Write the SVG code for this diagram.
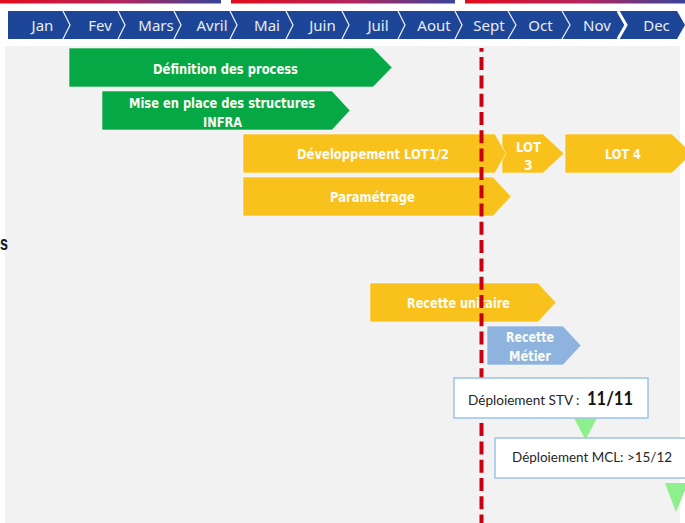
<svg xmlns="http://www.w3.org/2000/svg" width="685" height="523" viewBox="0 0 685 523">
<defs>
<linearGradient id="topbar" x1="0" y1="0" x2="1" y2="0">
<stop offset="0" stop-color="#e30b1c"/>
<stop offset="0.55" stop-color="#b0255e"/>
<stop offset="1" stop-color="#36449a"/>
</linearGradient>
</defs>
<style>
.month{font-family:"Noto Sans","Open Sans",sans-serif;font-size:15px;fill:#e8edf6;text-anchor:middle}
.div{fill:none;stroke:#e6ebf5;stroke-width:1.3}
.bar{stroke:#ffffff;stroke-opacity:0.55;stroke-width:1}
.green{fill:#06a846}
.yellow{fill:#f9c11c}
.blue{fill:#8db3de}
.lbl{font-family:"DejaVu Sans Condensed","DejaVu Sans",sans-serif;font-stretch:condensed;font-weight:bold;font-size:14px;fill:#fbfbf5;text-anchor:middle}
.dep{fill:#ffffff;stroke:#9cc4e8;stroke-width:1.5}
.deptxt{font-family:Lato,"Liberation Sans",sans-serif;font-size:13.5px;fill:#262626}
.tri{fill:#8ef08c}
</style>
<rect x="0" y="0" width="685" height="523" fill="#ffffff"/>
<g id="topbars">
<rect x="0" y="0" width="221" height="3.5" fill="url(#topbar)"/>
<rect x="231" y="0" width="224" height="3.5" fill="url(#topbar)"/>
<rect x="465" y="0" width="220" height="3.5" fill="url(#topbar)"/>
</g>
<g id="timeline">
<polygon points="8,11 677,11 685,25 677,39 8,39" fill="#1d4598"/>
<g class="dividers">
<polyline class="div" points="63,11 70,25 63,39"/>
<polyline class="div" points="118,11 125,25 118,39"/>
<polyline class="div" points="174,11 181,25 174,39"/>
<polyline class="div" points="230,11 237,25 230,39"/>
<polyline class="div" points="286,11 293,25 286,39"/>
<polyline class="div" points="342,11 349,25 342,39"/>
<polyline class="div" points="398,11 405,25 398,39"/>
<polyline class="div" points="455,11 462,25 455,39"/>
<polyline class="div" points="508,11 516,25 508,39"/>
<polyline class="div" points="562,11 570,25 562,39"/>
<polyline points="618,11 626,25 618,39" fill="none" stroke="#ffffff" stroke-width="3"/>
</g>
<text class="month" x="42.5" y="31">Jan</text>
<text class="month" x="100" y="31">Fev</text>
<text class="month" x="156" y="31">Mars</text>
<text class="month" x="212" y="31">Avril</text>
<text class="month" x="267" y="31">Mai</text>
<text class="month" x="322.5" y="31">Juin</text>
<text class="month" x="378" y="31">Juil</text>
<text class="month" x="434" y="31">Aout</text>
<text class="month" x="489" y="31">Sept</text>
<text class="month" x="540.5" y="31">Oct</text>
<text class="month" x="597" y="31">Nov</text>
<text class="month" x="656.5" y="31">Dec</text>
</g>
<rect x="5" y="46" width="675" height="477" fill="#f2f2f2"/>
<text x="0" y="250" font-family="Liberation Sans, sans-serif" font-size="21" font-weight="bold" fill="#1a1a1a" textLength="8" lengthAdjust="spacingAndGlyphs">s</text>
<g id="definition">
<polygon class="bar green" points="69,48 373,48 392,67.5 373,87 69,87"/>
<text class="lbl" x="225.5" y="74" textLength="145" lengthAdjust="spacingAndGlyphs">Définition des process</text>
</g>
<g id="infra">
<polygon class="bar green" points="102,91 332,91 350,110.5 332,130 102,130"/>
<text class="lbl" x="222" y="108" textLength="186" lengthAdjust="spacingAndGlyphs">Mise en place des structures</text>
<text class="lbl" x="222.5" y="127" textLength="39" lengthAdjust="spacingAndGlyphs">INFRA</text>
</g>
<g id="lot3">
<polygon class="bar yellow" points="502,134 543,134 564,153.5 543,173 502,173"/>
<text class="lbl" x="528.5" y="152" textLength="25" lengthAdjust="spacingAndGlyphs">LOT</text>
<text class="lbl" x="528.5" y="170">3</text>
</g>
<g id="dev">
<polygon class="bar yellow" points="243,134 495,134 506,153.5 495,173 243,173"/>
<text class="lbl" x="373" y="159" textLength="152" lengthAdjust="spacingAndGlyphs">Développement LOT1/2</text>
</g>
<g id="lot4">
<polygon class="bar yellow" points="565,134 672,134 692,153.5 672,173 565,173"/>
<text class="lbl" x="623" y="159" textLength="36" lengthAdjust="spacingAndGlyphs">LOT 4</text>
</g>
<g id="param">
<polygon class="bar yellow" points="243,177 493,177 511,196.5 493,216 243,216"/>
<text class="lbl" x="372.5" y="202" textLength="85" lengthAdjust="spacingAndGlyphs">Paramétrage</text>
</g>
<g id="recette-unitaire">
<polygon class="bar yellow" points="370,283 538,283 556,302.5 538,322 370,322"/>
<text class="lbl" x="458.5" y="308" textLength="103" lengthAdjust="spacingAndGlyphs">Recette unitaire</text>
</g>
<g id="recette-metier">
<polygon class="bar blue" points="487,326 563,326 581,345.5 563,365 487,365"/>
<text class="lbl" x="530" y="342" textLength="48" lengthAdjust="spacingAndGlyphs">Recette</text>
<text class="lbl" x="530" y="361" textLength="42" lengthAdjust="spacingAndGlyphs">Métier</text>
</g>
<g id="connectors">
<line x1="481.5" y1="48" x2="481.5" y2="523" stroke="#c8000f" stroke-width="4" stroke-dasharray="13 5.3" stroke-dashoffset="9.2"/>
</g>
<g id="markers">
<polygon class="tri" points="573,416 598,416 585.5,440"/>
<polygon class="tri" points="665,483 688,483 676,512"/>
</g>
<g id="deploiement-stv">
<rect class="dep" x="454" y="378" width="194" height="40"/>
<text class="deptxt" y="405"><tspan x="468" textLength="115" lengthAdjust="spacingAndGlyphs">Déploiement STV : </tspan><tspan x="587" font-size="19" font-weight="bold" fill="#111" textLength="46" lengthAdjust="spacingAndGlyphs">11/11</tspan></text>
</g>
<g id="deploiement-mcl">
<rect class="dep" x="495" y="438" width="194" height="40"/>
<text class="deptxt" x="512" y="462" textLength="160" lengthAdjust="spacingAndGlyphs">Déploiement MCL: &gt;15/12</text>
</g>
</svg>
